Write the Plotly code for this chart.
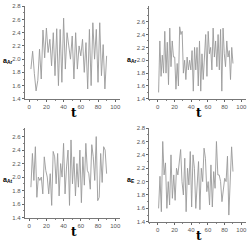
import numpy as np
import plotly.graph_objects as go

# ---- data ----
s1 = [1.85,2.12,1.78,1.52,1.68,2.15,1.70,2.44,2.02,2.47,2.10,2.30,1.90,2.40,1.75,2.46,1.60,2.45,1.65,2.62,
      1.85,2.40,2.20,2.00,2.35,1.70,2.40,1.85,2.20,2.05,2.30,1.80,2.25,1.55,2.45,1.60,2.55,2.00,2.45,1.65,
      2.55,1.75,2.22,1.55,2.05]
s2 = [1.50,2.30,1.75,2.08,1.80,2.45,1.80,2.28,1.62,2.50,1.90,2.30,2.05,2.05,1.55,1.95,1.60,2.52,2.40,2.45,
      1.80,2.00,1.70,2.05,1.85,2.00,1.85,2.15,1.52,2.20,1.85,2.20,1.60,2.30,1.52,2.10,1.70,2.05,2.40,1.75,
      2.45,2.10,2.20,1.85,2.50,2.05,2.30,1.90,2.40,1.85,2.48,1.52,2.50,2.10,1.90,2.30,2.05,2.15,1.70,2.20,1.95]
s3 = [1.85,2.35,1.95,2.45,1.70,2.00,1.95,2.00,1.75,2.30,2.10,2.00,1.75,2.05,1.58,2.38,2.30,1.90,2.35,1.72,
      2.20,2.00,2.50,1.75,2.15,2.40,1.58,2.55,1.90,2.30,1.72,2.20,1.85,2.40,1.62,2.30,1.88,2.50,2.10,2.05,
      1.82,2.48,2.30,1.95,2.60,1.65,1.70,2.35,1.92,2.45,2.40,2.05]
s4 = [1.60,2.08,1.55,2.60,2.10,2.28,1.60,2.00,1.65,2.40,1.75,2.10,1.72,2.20,2.10,2.35,2.48,2.00,1.80,2.35,
      1.55,2.20,1.95,2.45,1.62,2.40,2.20,1.60,2.05,2.30,1.58,2.20,2.00,2.50,2.35,1.85,2.00,1.65,2.25,1.62,
      2.15,1.90,2.60,2.10,2.10,2.00,1.70,1.90,2.05,2.00,2.38,1.50,2.10,2.52,2.15]
spans = [(2, 90), (1, 90), (2, 90), (1, 90)]
series = [s1, s2, s3, s4]
ylabels = ["a<sub>Ar</sub>", "a<sub>Ar</sub>", "a<sub>At</sub>", "a<sub>E</sub>"]
xticks = [0, 20, 40, 60, 80, 100]

W, H = 250, 242
panels = [
    dict(px=(25, 120), py=(3.3, 98.3), xr=(-5, 105), yr=(1.4, 2.8), yt=[1.4,1.6,1.8,2.0,2.2,2.4,2.6,2.8], lx=1, ly=59),
    dict(px=(150, 246.5), py=(3.3, 98.3), xr=(-10, 105), yr=(1.4, 2.84), yt=[1.4,1.6,1.8,2.0,2.2,2.4,2.6], lx=126, ly=58),
    dict(px=(25, 120), py=(128, 220), xr=(-5, 105), yr=(1.4, 2.73), yt=[1.4,1.6,1.8,2.0,2.2,2.4,2.6], lx=1, ly=182),
    dict(px=(150, 246.5), py=(128.3, 224.3), xr=(-10, 105), yr=(1.4, 2.8), yt=[1.4,1.6,1.8,2.0,2.2,2.4,2.6,2.8], lx=126, ly=182),
]

fig = go.Figure()
layout = dict(width=W, height=H, margin=dict(l=0, r=0, t=0, b=0),
              paper_bgcolor="white", plot_bgcolor="white", showlegend=False)
annotations = []
for i, (p, s, sp, lab) in enumerate(zip(panels, series, spans, ylabels)):
    n = i + 1
    xa = "x" if n == 1 else f"x{n}"
    ya = "y" if n == 1 else f"y{n}"
    t = np.linspace(sp[0], sp[1], len(s))
    fig.add_trace(go.Scatter(x=t, y=s, mode="lines", line=dict(color="#9a9a9a", width=0.9),
                             xaxis=xa, yaxis=ya, hoverinfo="skip"))
    xd = [p["px"][0] / W, p["px"][1] / W]
    yd = [1 - p["py"][1] / H, 1 - p["py"][0] / H]
    axfont = dict(family="Arial", size=6, color="#555")
    layout["xaxis" if n == 1 else f"xaxis{n}"] = dict(
        domain=xd, range=list(p["xr"]), anchor=ya, tickvals=xticks, ticks="outside", ticklen=2,
        tickcolor="#666", showline=True, linecolor="#777", linewidth=1, showgrid=False,
        zeroline=False, tickfont=axfont,
        minor=dict(ticks="outside", ticklen=1, dtick=10, tickcolor="#888"))
    layout["yaxis" if n == 1 else f"yaxis{n}"] = dict(
        domain=yd, range=list(p["yr"]), anchor=xa, tickvals=p["yt"],
        ticktext=[f"{v:.1f}" for v in p["yt"]], ticks="outside", ticklen=2,
        tickcolor="#666", showline=True, linecolor="#777", linewidth=1, showgrid=False,
        zeroline=False, tickfont=axfont,
        minor=dict(ticks="outside", ticklen=1, dtick=0.1, tickcolor="#888"))
    cx = (p["px"][0] + 4 + (p["px"][1])) / 2
    annotations.append(dict(text="<b>t</b>", x=cx / W, y=1 - (p["py"][1] + 14.5) / H,
                            xref="paper", yref="paper", showarrow=False,
                            font=dict(family="DejaVu Serif", size=12, color="black"),
                            xanchor="center", yanchor="middle"))
    annotations.append(dict(text="<b>" + lab + "</b>", x=p["lx"] / W,
                            y=1 - p["ly"] / H,
                            xref="paper", yref="paper", showarrow=False,
                            font=dict(family="Arial", size=7, color="black"),
                            xanchor="left", yanchor="middle"))
layout["annotations"] = annotations
fig.update_layout(**layout)
fig.write_html("out.html")
